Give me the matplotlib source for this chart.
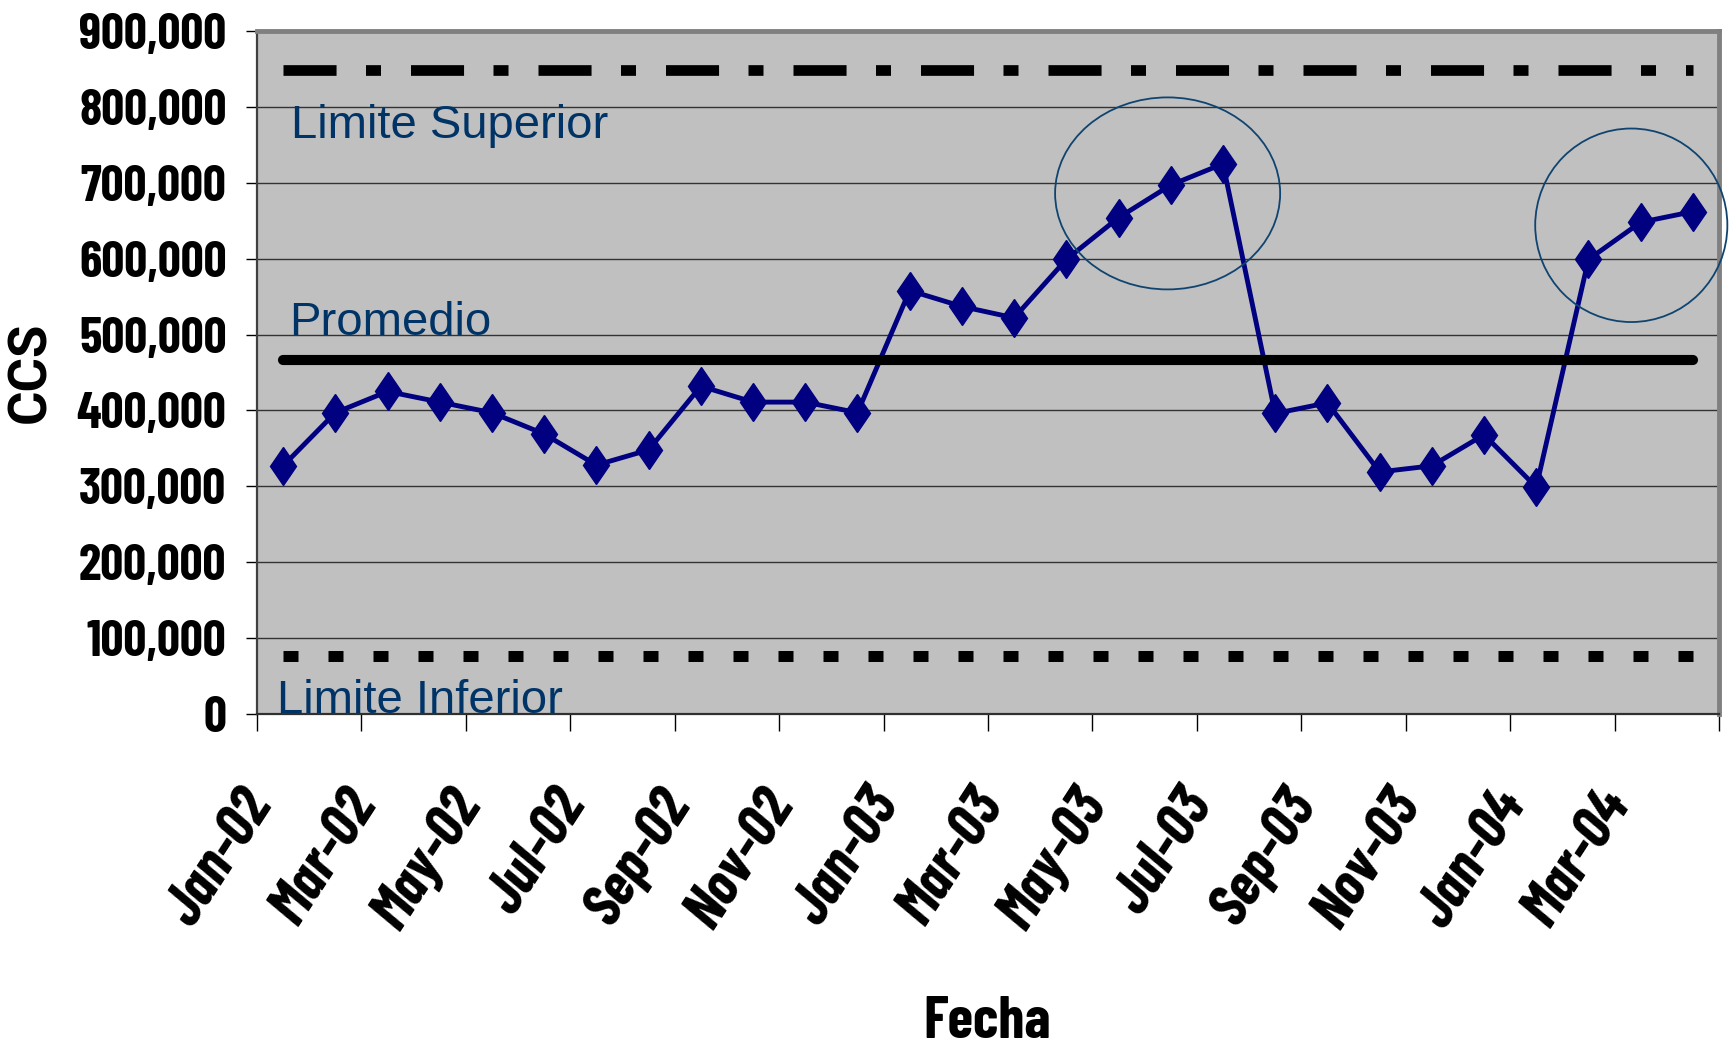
import matplotlib
matplotlib.use('Agg')
import matplotlib.pyplot as plt
from matplotlib.patches import Ellipse
from matplotlib.markers import MarkerStyle
from matplotlib.transforms import Affine2D, ScaledTranslation
import numpy as np

# ---------------- data ----------------
months = ['Jan-02', 'Feb-02', 'Mar-02', 'Apr-02', 'May-02', 'Jun-02', 'Jul-02',
          'Aug-02', 'Sep-02', 'Oct-02', 'Nov-02', 'Dec-02', 'Jan-03', 'Feb-03',
          'Mar-03', 'Apr-03', 'May-03', 'Jun-03', 'Jul-03', 'Aug-03', 'Sep-03',
          'Oct-03', 'Nov-03', 'Dec-03', 'Jan-04', 'Feb-04', 'Mar-04', 'Apr-04']
ccs = [327000, 397000, 425000, 411000, 397000, 369000, 328000, 348000,
       432000, 411000, 411000, 397000, 558000, 537000, 522000, 599000,
       654000, 697000, 725000, 396000, 410000, 319000, 327000, 368000,
       299000, 599000, 648000, 662000]
promedio = 466000
limite_superior = 849000
limite_inferior = 76000
y_ticks = [0, 100000, 200000, 300000, 400000, 500000, 600000, 700000, 800000, 900000]
x_tick_labels = months[::2]

# ---------------- style ----------------
plt.rcParams['lines.scale_dashes'] = False
NARROW = ['Liberation Sans Narrow', 'Barlow Condensed', 'DejaVu Sans']
ARIAL = ['Liberation Sans', 'DejaVu Sans']
ARIAL_BOLD = ['Roboto', 'DejaVu Sans']
TXT_BLUE = '#003366'

W, H = 1733, 1048
fig = plt.figure(figsize=(W / 100, H / 100), dpi=100)
ax = fig.add_axes([257 / W, 1 - 714 / H, (1719 - 257) / W, (714 - 31) / H])
ax.set_facecolor('#C0C0C0')

n = len(months)
x = np.arange(n)
ax.set_xlim(-0.5, n - 0.5)
ax.set_ylim(0, 900000)

# grid / y axis
ax.set_yticks(y_ticks)
ax.set_yticklabels([f'{v:,}' for v in y_ticks])
ax.yaxis.grid(True, color='#333333', lw=1.0)
ax.set_axisbelow(True)
ax.tick_params(axis='y', length=8, width=1, pad=14, labelsize=36.5)
for lbl in ax.get_yticklabels():
    lbl.set_fontfamily(NARROW)
    lbl.set_fontweight('bold')

# x ticks at category boundaries every 2 categories
ax.set_xticks(np.arange(-0.5, n, 2))
ax.set_xticklabels([])
ax.tick_params(axis='x', length=12, width=1)

# x labels (rotated, anchored at their upper right end)
lab_trans = ax.get_xaxis_transform() + ScaledTranslation(-0.45, -0.67, fig.dpi_scale_trans)
for i, lab in zip(x[::2], x_tick_labels):
    ax.text(i, 0, lab, transform=lab_trans, rotation=57, rotation_mode='anchor',
            ha='right', va='top', fontsize=43, fontweight='bold', fontstyle='italic',
            family=NARROW, clip_on=False)

# spines
for s in ['top', 'right']:
    ax.spines[s].set_color('#808080')
    ax.spines[s].set_linewidth(3.5)
ax.spines['left'].set_color('#404040')
ax.spines['left'].set_linewidth(1.6)
ax.spines['bottom'].set_color('#303030')
ax.spines['bottom'].set_linewidth(1.6)

# limit lines
ax.plot(x, [limite_superior] * n, color='black', lw=7.7, solid_capstyle='butt',
        dash_capstyle='butt', dashes=(38.2, 21.2, 10.8, 21.6), zorder=3)
ax.plot(x, [limite_inferior] * n, color='black', lw=7.9, dash_capstyle='butt',
        dashes=(10.8, 21.6), zorder=3)

# data
marker = MarkerStyle('D', transform=Affine2D().scale(0.68, 1.0))
ax.plot(x, ccs, color='#000080', lw=3.5, marker=marker, ms=19.5,
        mfc='#000080', mec='#000080', mew=1.0, zorder=4)

# average
ax.plot(x, [promedio] * n, color='black', lw=7.3, solid_capstyle='round', zorder=5)

# circles highlighting points
ax.add_patch(Ellipse((16.94, 686000), 4.31, 253000, fill=False, ec='#0F4470',
                     lw=1.3, clip_on=False, zorder=6))
ax.add_patch(Ellipse((25.82, 644000), 3.68, 255000, fill=False, ec='#0F4470',
                     lw=1.3, clip_on=False, zorder=6))

# labels inside plot
ax.text(0.023, 0.843, 'Limite Superior', transform=ax.transAxes, fontsize=34,
        color=TXT_BLUE, family=ARIAL, va='baseline', ha='left', zorder=7)
ax.text(0.022, 0.555, 'Promedio', transform=ax.transAxes, fontsize=34,
        color=TXT_BLUE, family=ARIAL, va='baseline', ha='left', zorder=7)
ax.text(0.0135, 0.0015, 'Limite Inferior', transform=ax.transAxes, fontsize=34,
        color=TXT_BLUE, family=ARIAL, va='baseline', ha='left', zorder=7)

# axis titles
fig.text(31 / W, 1 - 372 / H, 'CCS', rotation=90, ha='center', va='center',
         fontsize=38, fontweight='bold', family=ARIAL_BOLD)
fig.text(987 / W, 1 - 1038 / H, 'Fecha', ha='center', va='baseline',
         fontsize=42, fontweight='bold', family=NARROW)

fig.savefig('out.png', dpi=100, facecolor='white')
